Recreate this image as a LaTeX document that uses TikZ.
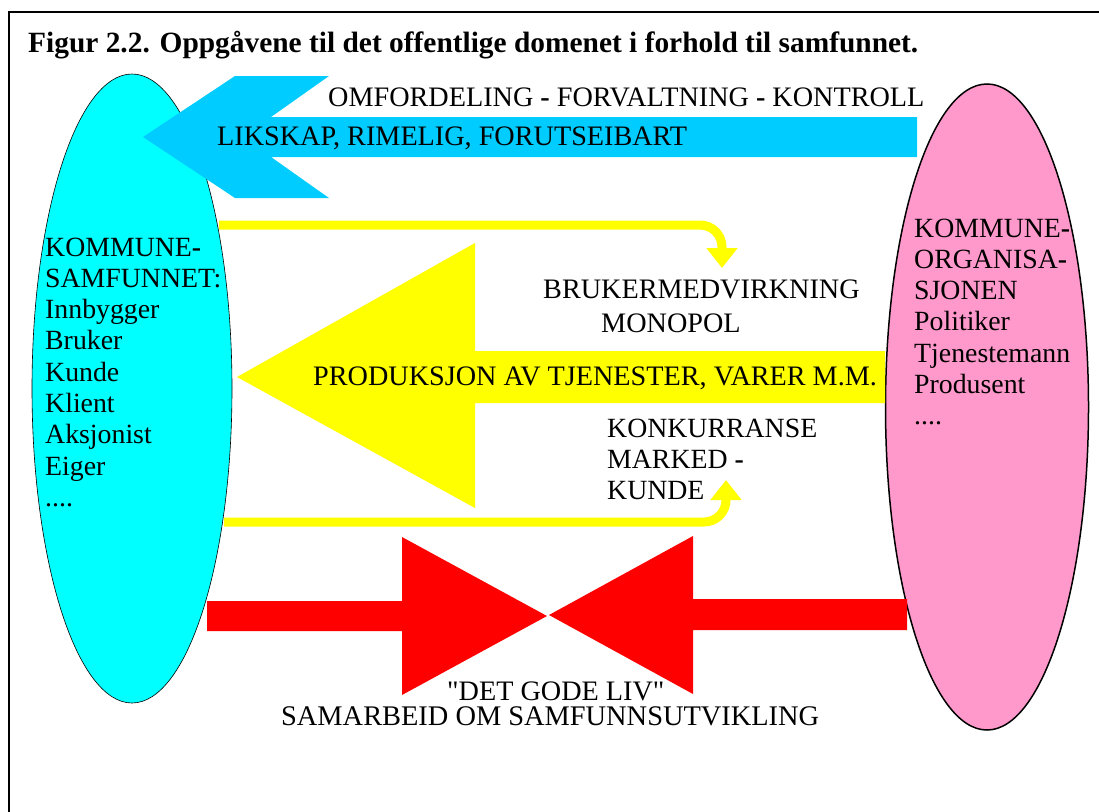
\documentclass[tikz,border=0pt]{standalone}
\usepackage{fontspec}
\setmainfont{Liberation Serif}[Ligatures=TeXOff]
\usetikzlibrary{shapes.geometric,arrows.meta}
\definecolor{turkis}{HTML}{00FFFF}
\definecolor{himmel}{HTML}{00CCFF}
\definecolor{rosa}{HTML}{FF99CC}
\definecolor{gul}{HTML}{FFFF00}
\definecolor{raud}{HTML}{FF0000}
\begin{document}
\begin{tikzpicture}[x=1pt,y=-1pt,line join=miter]
 \def\hy{\textbf{-}}
 \tikzset{txt/.style={anchor=base west,inner sep=0pt,font=\fontsize{28.2}{31.3}\selectfont},
  lst/.style={txt,align=left,font=\fontsize{27.8}{31.3}\selectfont},
  curl/.style={draw=gul,line width=9pt,rounded corners=22pt,-{Triangle[width=30pt,length=20pt]}}}
 \useasboundingbox (0,0) rectangle (1099,811);
 \clip (0,0) rectangle (1099,811);
 \draw[line width=2pt] (9,12) rectangle (1120,830);
 \node[txt,font=\fontsize{29.4}{34}\selectfont\bfseries] (tittel) at (28,52) {Figur 2.2. Oppgåvene til det offentlige domenet i forhold til samfunnet.};
 \node[ellipse,draw,line width=0.6pt,fill=turkis,minimum width=200pt,minimum height=629pt] (samfunn) at (132,388.5) {};
 \node[ellipse,draw,line width=1.5pt,fill=rosa,minimum width=203pt,minimum height=646pt] (org) at (987,407) {};
 \fill[himmel] (143,137) -- (235,76) -- (329,76) -- (271,117) -- (917,117) -- (917,157) -- (271,157) -- (329,198) -- (235,198) -- cycle;
 \fill[gul] (237,377) -- (475,243) -- (475,351) -- (885,351) -- (885,403) -- (475,403) -- (475,508) -- cycle;
 \fill[raud] (207,601) -- (402,601) -- (402,537) -- (547,616) -- (402,695) -- (402,631) -- (207,631) -- cycle;
 \fill[raud] (907,599) -- (693,599) -- (693,536) -- (549,615) -- (693,694) -- (693,630) -- (907,630) -- cycle;
 \coordinate (ovstart) at (219,225);
 \coordinate (ovslutt) at (722,268);
 \coordinate (nedstart) at (224,522);
 \coordinate (nedslutt) at (726,480);
 \draw[curl] (ovstart) -| (ovslutt);
 \draw[curl] (nedstart) -| (nedslutt);
 \node[txt] (omf) at (328,106) {OMFORDELING \hy{} FORVALTNING \hy{} KONTROLL};
 \node[txt] (lik) at (217,145) {LIKSKAP, RIMELIG, FORUTSEIBART};
 \node[txt] (bruk) at (543,298) {BRUKERMEDVIRKNING};
 \node[txt] (mono) at (601,332) {MONOPOL};
 \node[txt] (prod) at (313,385) {PRODUKSJON AV TJENESTER, VARER M.M.};
 \node[lst] (konk) at (607,499.6) {KONKURRANSE\\MARKED \hy\\KUNDE};
 \node[lst] (samtxt) at (45,506.4) {KOMMUNE\hy\\SAMFUNNET:\\Innbygger\\Bruker\\Kunde\\Klient\\Aksjonist\\Eiger\\....};
 \node[lst] (orgtxt) at (914,424.8) {KOMMUNE\hy\\ORGANISA\hy\\SJONEN\\Politiker\\Tjenestemann\\Produsent\\....};
 \node[txt] (liv) at (447,700) {"DET GODE LIV"};
 \node[txt,font=\fontsize{28.4}{31.3}\selectfont] (samarb) at (281,725) {SAMARBEID OM SAMFUNNSUTVIKLING};
\end{tikzpicture}
\end{document}
